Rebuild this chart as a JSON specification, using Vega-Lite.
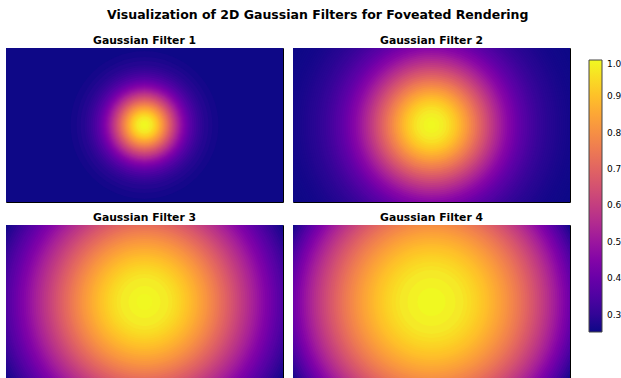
{
  "$schema": "https://vega.github.io/schema/vega-lite/v6.json",
  "padding": {"left": 5, "top": 8, "right": 0, "bottom": 0},
  "title": {"text": "Visualization of 2D Gaussian Filters for Foveated Rendering", "font": "DejaVu Sans", "fontSize": 12.5, "fontWeight": "bold", "color": "black", "anchor": "middle", "offset": 13, "dx": 4},
  "data": {"values": [
    {"p":1,"r":160,"v":0.253},{"p":1,"r":74,"v":0.261},{"p":1,"r":68,"v":0.269},{"p":1,"r":64,"v":0.279},{"p":1,"r":60,"v":0.288},{"p":1,"r":58,"v":0.297},{"p":1,"r":56,"v":0.306},{"p":1,"r":54,"v":0.317},{"p":1,"r":52,"v":0.330},{"p":1,"r":50,"v":0.345},{"p":1,"r":48,"v":0.362},{"p":1,"r":46,"v":0.376},{"p":1,"r":45,"v":0.386},{"p":1,"r":44,"v":0.397},{"p":1,"r":43,"v":0.408},{"p":1,"r":42,"v":0.420},{"p":1,"r":41,"v":0.432},{"p":1,"r":40,"v":0.445},{"p":1,"r":39,"v":0.459},{"p":1,"r":38,"v":0.473},{"p":1,"r":37,"v":0.487},{"p":1,"r":36,"v":0.502},{"p":1,"r":35,"v":0.518},{"p":1,"r":34,"v":0.534},{"p":1,"r":33,"v":0.551},{"p":1,"r":32,"v":0.568},{"p":1,"r":31,"v":0.586},{"p":1,"r":30,"v":0.603},{"p":1,"r":29,"v":0.622},{"p":1,"r":28,"v":0.640},{"p":1,"r":27,"v":0.659},{"p":1,"r":26,"v":0.677},{"p":1,"r":25,"v":0.696},{"p":1,"r":24,"v":0.715},{"p":1,"r":23,"v":0.734},{"p":1,"r":22,"v":0.753},{"p":1,"r":21,"v":0.771},{"p":1,"r":20,"v":0.790},{"p":1,"r":19,"v":0.808},{"p":1,"r":18,"v":0.825},{"p":1,"r":17,"v":0.843},{"p":1,"r":16,"v":0.859},{"p":1,"r":15,"v":0.875},{"p":1,"r":14,"v":0.891},{"p":1,"r":13,"v":0.905},{"p":1,"r":12,"v":0.919},{"p":1,"r":11,"v":0.932},{"p":1,"r":10,"v":0.944},{"p":1,"r":9,"v":0.955},{"p":1,"r":8,"v":0.969},{"p":1,"r":6,"v":0.984},{"p":1,"r":4,"v":0.994},{"p":1,"r":2,"v":0.999},
    {"p":2,"r":160,"v":0.252},{"p":2,"r":156,"v":0.253},{"p":2,"r":152,"v":0.254},{"p":2,"r":150,"v":0.255},{"p":2,"r":148,"v":0.256},{"p":2,"r":146,"v":0.257},{"p":2,"r":144,"v":0.258},{"p":2,"r":142,"v":0.259},{"p":2,"r":140,"v":0.260},{"p":2,"r":138,"v":0.261},{"p":2,"r":136,"v":0.263},{"p":2,"r":134,"v":0.265},{"p":2,"r":132,"v":0.267},{"p":2,"r":130,"v":0.269},{"p":2,"r":128,"v":0.271},{"p":2,"r":126,"v":0.274},{"p":2,"r":124,"v":0.277},{"p":2,"r":122,"v":0.280},{"p":2,"r":120,"v":0.283},{"p":2,"r":118,"v":0.287},{"p":2,"r":116,"v":0.291},{"p":2,"r":114,"v":0.296},{"p":2,"r":112,"v":0.301},{"p":2,"r":110,"v":0.306},{"p":2,"r":108,"v":0.311},{"p":2,"r":106,"v":0.317},{"p":2,"r":104,"v":0.324},{"p":2,"r":102,"v":0.331},{"p":2,"r":100,"v":0.338},{"p":2,"r":98,"v":0.346},{"p":2,"r":96,"v":0.355},{"p":2,"r":94,"v":0.364},{"p":2,"r":92,"v":0.373},{"p":2,"r":90,"v":0.383},{"p":2,"r":88,"v":0.394},{"p":2,"r":86,"v":0.405},{"p":2,"r":84,"v":0.417},{"p":2,"r":82,"v":0.430},{"p":2,"r":80,"v":0.443},{"p":2,"r":78,"v":0.456},{"p":2,"r":76,"v":0.470},{"p":2,"r":74,"v":0.485},{"p":2,"r":72,"v":0.500},{"p":2,"r":70,"v":0.516},{"p":2,"r":68,"v":0.532},{"p":2,"r":66,"v":0.549},{"p":2,"r":64,"v":0.566},{"p":2,"r":62,"v":0.584},{"p":2,"r":60,"v":0.602},{"p":2,"r":58,"v":0.620},{"p":2,"r":56,"v":0.638},{"p":2,"r":54,"v":0.657},{"p":2,"r":52,"v":0.676},{"p":2,"r":50,"v":0.695},{"p":2,"r":48,"v":0.714},{"p":2,"r":46,"v":0.733},{"p":2,"r":44,"v":0.752},{"p":2,"r":42,"v":0.770},{"p":2,"r":40,"v":0.789},{"p":2,"r":38,"v":0.807},{"p":2,"r":36,"v":0.825},{"p":2,"r":34,"v":0.842},{"p":2,"r":32,"v":0.859},{"p":2,"r":30,"v":0.875},{"p":2,"r":28,"v":0.890},{"p":2,"r":26,"v":0.905},{"p":2,"r":24,"v":0.919},{"p":2,"r":22,"v":0.931},{"p":2,"r":20,"v":0.943},{"p":2,"r":18,"v":0.957},{"p":2,"r":15,"v":0.971},{"p":2,"r":12,"v":0.984},{"p":2,"r":8,"v":0.994},{"p":2,"r":4,"v":0.999},
    {"p":3,"r":160,"v":0.252},{"p":3,"r":159,"v":0.253},{"p":3,"r":157,"v":0.262},{"p":3,"r":155,"v":0.272},{"p":3,"r":153,"v":0.281},{"p":3,"r":151,"v":0.290},{"p":3,"r":149,"v":0.300},{"p":3,"r":147,"v":0.310},{"p":3,"r":145,"v":0.320},{"p":3,"r":143,"v":0.331},{"p":3,"r":141,"v":0.341},{"p":3,"r":139,"v":0.352},{"p":3,"r":137,"v":0.363},{"p":3,"r":135,"v":0.373},{"p":3,"r":133,"v":0.385},{"p":3,"r":131,"v":0.396},{"p":3,"r":129,"v":0.407},{"p":3,"r":127,"v":0.419},{"p":3,"r":125,"v":0.431},{"p":3,"r":123,"v":0.442},{"p":3,"r":121,"v":0.454},{"p":3,"r":119,"v":0.466},{"p":3,"r":117,"v":0.479},{"p":3,"r":115,"v":0.491},{"p":3,"r":113,"v":0.503},{"p":3,"r":111,"v":0.516},{"p":3,"r":109,"v":0.528},{"p":3,"r":107,"v":0.541},{"p":3,"r":105,"v":0.553},{"p":3,"r":103,"v":0.566},{"p":3,"r":101,"v":0.579},{"p":3,"r":99,"v":0.591},{"p":3,"r":97,"v":0.604},{"p":3,"r":95,"v":0.617},{"p":3,"r":93,"v":0.629},{"p":3,"r":91,"v":0.642},{"p":3,"r":89,"v":0.655},{"p":3,"r":87,"v":0.667},{"p":3,"r":85,"v":0.680},{"p":3,"r":83,"v":0.692},{"p":3,"r":81,"v":0.705},{"p":3,"r":79,"v":0.717},{"p":3,"r":77,"v":0.729},{"p":3,"r":75,"v":0.741},{"p":3,"r":73,"v":0.753},{"p":3,"r":71,"v":0.765},{"p":3,"r":69,"v":0.777},{"p":3,"r":67,"v":0.788},{"p":3,"r":65,"v":0.799},{"p":3,"r":63,"v":0.811},{"p":3,"r":61,"v":0.821},{"p":3,"r":59,"v":0.832},{"p":3,"r":57,"v":0.843},{"p":3,"r":55,"v":0.853},{"p":3,"r":53,"v":0.863},{"p":3,"r":51,"v":0.872},{"p":3,"r":49,"v":0.882},{"p":3,"r":47,"v":0.891},{"p":3,"r":45,"v":0.900},{"p":3,"r":43,"v":0.908},{"p":3,"r":41,"v":0.916},{"p":3,"r":39,"v":0.924},{"p":3,"r":37,"v":0.932},{"p":3,"r":35,"v":0.939},{"p":3,"r":33,"v":0.946},{"p":3,"r":31,"v":0.954},{"p":3,"r":28,"v":0.964},{"p":3,"r":24,"v":0.978},{"p":3,"r":16,"v":0.992},{"p":3,"r":8,"v":0.999},
    {"p":4,"r":160,"v":0.252},{"p":4,"r":158,"v":0.262},{"p":4,"r":156,"v":0.278},{"p":4,"r":154,"v":0.294},{"p":4,"r":152,"v":0.309},{"p":4,"r":150,"v":0.325},{"p":4,"r":148,"v":0.340},{"p":4,"r":146,"v":0.356},{"p":4,"r":144,"v":0.371},{"p":4,"r":142,"v":0.386},{"p":4,"r":140,"v":0.402},{"p":4,"r":138,"v":0.417},{"p":4,"r":136,"v":0.431},{"p":4,"r":134,"v":0.446},{"p":4,"r":132,"v":0.461},{"p":4,"r":130,"v":0.475},{"p":4,"r":128,"v":0.490},{"p":4,"r":126,"v":0.504},{"p":4,"r":124,"v":0.518},{"p":4,"r":122,"v":0.532},{"p":4,"r":120,"v":0.546},{"p":4,"r":118,"v":0.560},{"p":4,"r":116,"v":0.574},{"p":4,"r":114,"v":0.587},{"p":4,"r":112,"v":0.600},{"p":4,"r":110,"v":0.614},{"p":4,"r":108,"v":0.627},{"p":4,"r":106,"v":0.639},{"p":4,"r":104,"v":0.652},{"p":4,"r":102,"v":0.665},{"p":4,"r":100,"v":0.677},{"p":4,"r":98,"v":0.689},{"p":4,"r":96,"v":0.701},{"p":4,"r":94,"v":0.713},{"p":4,"r":92,"v":0.724},{"p":4,"r":90,"v":0.736},{"p":4,"r":88,"v":0.747},{"p":4,"r":86,"v":0.758},{"p":4,"r":84,"v":0.768},{"p":4,"r":82,"v":0.779},{"p":4,"r":80,"v":0.789},{"p":4,"r":78,"v":0.799},{"p":4,"r":76,"v":0.809},{"p":4,"r":74,"v":0.819},{"p":4,"r":72,"v":0.828},{"p":4,"r":70,"v":0.838},{"p":4,"r":68,"v":0.847},{"p":4,"r":66,"v":0.855},{"p":4,"r":64,"v":0.864},{"p":4,"r":62,"v":0.872},{"p":4,"r":60,"v":0.880},{"p":4,"r":58,"v":0.888},{"p":4,"r":56,"v":0.896},{"p":4,"r":54,"v":0.903},{"p":4,"r":52,"v":0.910},{"p":4,"r":50,"v":0.917},{"p":4,"r":48,"v":0.923},{"p":4,"r":46,"v":0.930},{"p":4,"r":44,"v":0.936},{"p":4,"r":42,"v":0.941},{"p":4,"r":40,"v":0.950},{"p":4,"r":36,"v":0.960},{"p":4,"r":32,"v":0.973},{"p":4,"r":24,"v":0.987},{"p":4,"r":14,"v":0.998}
  ]},
  "facet": {"field": "p", "type": "ordinal", "title": null, "header": {"labelExpr": "'Gaussian Filter ' + datum.value", "labelFont": "DejaVu Sans", "labelFontSize": 10.8, "labelFontWeight": "bold", "labelColor": "black", "labelPadding": 2.3}},
  "columns": 2,
  "spacing": {"column": 8, "row": 8},
  "spec": {
    "width": 277,
    "height": 154,
    "mark": {"type": "point", "shape": "circle", "filled": true, "opacity": 1, "clip": true, "strokeWidth": 0},
    "encoding": {
      "x": {"datum": 0, "type": "quantitative", "scale": {"domain": [-138.5, 138.5]}, "axis": null},
      "y": {"datum": 0, "type": "quantitative", "scale": {"domain": [-77, 77]}, "axis": null},
      "size": {"field": "r", "type": "quantitative", "scale": {"type": "pow", "exponent": 2, "domain": [0, 160], "range": [0, 102400]}, "legend": null},
      "color": {"field": "v", "type": "quantitative", "scale": {"scheme": "plasma", "domain": [0.252, 1.0]}, "legend": {"title": null, "orient": "none", "legendX": 583, "legendY": 12, "direction": "vertical", "gradientLength": 272, "gradientThickness": 13, "values": [0.3, 0.4, 0.5, 0.6, 0.7, 0.8, 0.9, 1.0], "format": ".1f", "labelFont": "DejaVu Sans", "labelFontSize": 9, "labelColor": "black", "labelOffset": 5, "labelOverlap": false, "gradientStrokeColor": "#444", "gradientStrokeWidth": 1}},
      "order": {"field": "r", "sort": "descending"}
    }
  },
  "config": {"view": {"stroke": "black", "strokeWidth": 1}}
}
